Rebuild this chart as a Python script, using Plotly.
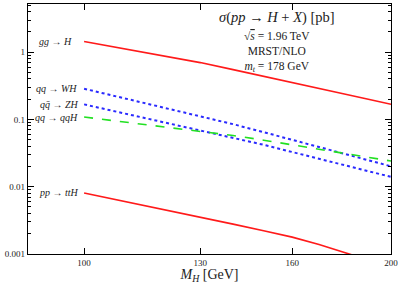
import plotly.graph_objects as go
import math

mh = [100, 110, 120, 130, 140, 150, 160, 170, 180, 190, 200]
gg_h = [1.44, 1.11, 0.875, 0.70, 0.55, 0.44, 0.355, 0.29, 0.239, 0.199, 0.168]
qq_wh = [0.286, 0.203, 0.148, 0.111, 0.0851, 0.0647, 0.0499, 0.039, 0.0309, 0.0248, 0.0201]
qq_zh = [0.1675, 0.1216, 0.091, 0.0696, 0.0543, 0.042, 0.0328, 0.0261, 0.0209, 0.0170, 0.0140]
qq_qqh = [0.1086, 0.0908, 0.0771, 0.0664, 0.0577, 0.0492, 0.0420, 0.0361, 0.0313, 0.0274, 0.0241]
pp_tth = [0.00809, 0.0060, 0.00457, 0.00356, 0.00278, 0.00221, 0.00178, 0.00138, 0.00106, 0.00081, 0.00064]

x_ticks = [100, 130, 160, 200]
y_ticks = [0.001, 0.01, 0.1, 1]
y_ticktext = ["0.001", "0.01", "0.1", "1"]

labels = ["<i>gg</i> → <i>H</i>", "<i>qq</i> → <i>WH</i>", "<i>q</i><i>q̄</i> → <i>ZH</i>",
          "<i>qq</i> → <i>qqH</i>", "<i>pp</i> → <i>ttH</i>"]

FONT = "Liberation Serif"
RED = "#ff1a1a"
BLUE = "#2a2aff"
GREEN = "#22e022"

fig = go.Figure()
series = [
    (gg_h, RED, "solid", 1.6),
    (qq_wh, BLUE, "dot", 2.0),
    (qq_zh, BLUE, "dot", 2.0),
    (qq_qqh, GREEN, "dash", 1.6),
    (pp_tth, RED, "solid", 1.6),
]
for ys, c, d, w in series:
    fig.add_trace(go.Scatter(x=mh, y=ys, mode="lines",
                             line=dict(color=c, dash=d, width=w),
                             showlegend=False, hoverinfo="skip"))

starts = [gg_h[0], qq_wh[0], qq_zh[0], qq_qqh[0], pp_tth[0]]
xoff = [-10, -5, -3, -4, -3]
for lab, y0, xo in zip(labels, starts, xoff):
    fig.add_annotation(x=math.log10(mh[0]), y=math.log10(y0), xref="x", yref="y",
                       text=lab, showarrow=False, xanchor="right", yanchor="middle",
                       xshift=xo, font=dict(family=FONT, size=10, color="#222"))

fig.add_annotation(x=0.685, y=0.99, xref="paper", yref="paper", xanchor="center", yanchor="top",
                   text="<i>σ</i>(<i>pp</i> → <i>H</i> + <i>X</i>) [pb]", showarrow=False,
                   font=dict(family=FONT, size=14.5, color="#222"))
fig.add_annotation(x=0.685, y=0.905, xref="paper", yref="paper", xanchor="center", yanchor="top",
                   text="√<span style='text-decoration:overline'><i>s</i></span> = 1.96 TeV<br>MRST/NLO<br><i>m<sub>t</sub></i> = 178 GeV",
                   showarrow=False, align="center",
                   font=dict(family=FONT, size=11.5, color="#222"))

fig.update_layout(
    width=399, height=284,
    margin=dict(l=28, r=8, t=4, b=30, autoexpand=False),
    paper_bgcolor="white", plot_bgcolor="white",
    font=dict(family=FONT, size=9, color="#222"),
    xaxis=dict(type="log", range=[math.log10(88.1), math.log10(200)],
               tickvals=x_ticks, ticktext=[str(v) for v in x_ticks],
               ticks="inside", ticklen=6, tickcolor="black", mirror="allticks",
               showline=True, linecolor="black", linewidth=1.2, showgrid=False,
               zeroline=False, tickfont=dict(family=FONT, size=9), automargin=False,
               title=dict(text="<i>M<sub>H</sub></i> [GeV]", font=dict(family=FONT, size=14), standoff=2)),
    yaxis=dict(type="log", range=[-3, 0.716],
               tickvals=y_ticks, ticktext=y_ticktext,
               ticks="inside", ticklen=6, tickcolor="black", mirror="allticks",
               showline=True, linecolor="black", linewidth=1.2, showgrid=False,
               zeroline=False, tickfont=dict(family=FONT, size=9), automargin=False,
               minor=dict(ticks="inside", ticklen=3, tickcolor="black", dtick="D1", showgrid=False)),
)

fig.write_html("out.html", config={"displayModeBar": False},
               post_script="document.body.style.margin='0';")
